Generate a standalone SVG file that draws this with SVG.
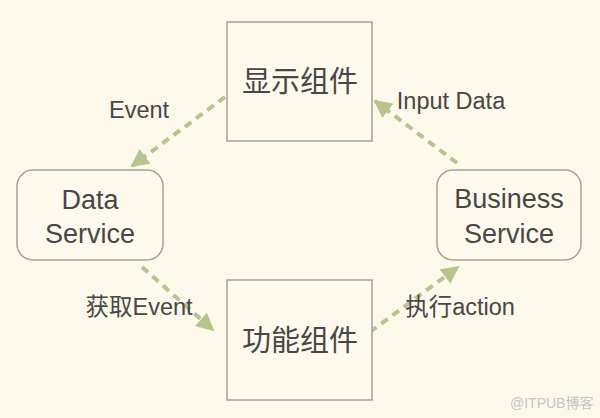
<svg xmlns="http://www.w3.org/2000/svg" width="600" height="418" viewBox="0 0 600 418">
<style>
.bg{fill:#fcf8ea}
.box{fill:#fdf9ec;stroke:#a5a293;stroke-width:1.5}
.t{font-family:"Liberation Sans","Noto Sans CJK SC",sans-serif;fill:#474747;text-anchor:middle}
.big{font-size:29px}
.mid{font-size:27px}
.lab{font-size:23.5px}
.conn{stroke:#b7c48f;stroke-width:4;stroke-dasharray:8 6;fill:none}
.wm{font-family:"Liberation Sans","Noto Sans CJK SC",sans-serif;font-size:14px;fill:#c4c4c4}
</style>
<defs>
<marker id="ah" viewBox="0 0 10 10" refX="9" refY="5" markerWidth="4.5" markerHeight="4.5" orient="auto" markerUnits="strokeWidth">
<path d="M0,0 L10,5 L0,10 Z" fill="#b7c48f"/>
</marker>
</defs>
<rect class="bg" width="600" height="418"/>
<g id="connectors">
<line class="conn" x1="225" y1="97" x2="132" y2="166" marker-end="url(#ah)"/>
<line class="conn" x1="457" y1="163" x2="375" y2="101" marker-end="url(#ah)"/>
<line class="conn" x1="142" y1="267" x2="213" y2="330" marker-end="url(#ah)"/>
<line class="conn" x1="370" y1="332" x2="458" y2="267" marker-end="url(#ah)"/>
</g>
<g id="display">
<rect class="box" x="227" y="22" width="145" height="119"/>
<text class="t big" x="300" y="92">显示组件</text>
</g>
<g id="function">
<rect class="box" x="227" y="280" width="145" height="120"/>
<text class="t big" x="300" y="351">功能组件</text>
</g>
<g id="data-service">
<rect class="box" x="17" y="170" width="146" height="90" rx="16"/>
<text class="t mid" x="90" y="209">Data</text>
<text class="t mid" x="90" y="243">Service</text>
</g>
<g id="business-service">
<rect class="box" x="437" y="170" width="144" height="90" rx="16"/>
<text class="t mid" x="509" y="208">Business</text>
<text class="t mid" x="509" y="243">Service</text>
</g>
<g id="labels">
<text class="t lab" x="139" y="118">Event</text>
<text class="t lab" x="451" y="109">Input Data</text>
<text class="t lab" x="139" y="315">获取Event</text>
<text class="t lab" x="460" y="315">执行action</text>
</g>
<text class="wm" x="510" y="408">@ITPUB博客</text>
</svg>
